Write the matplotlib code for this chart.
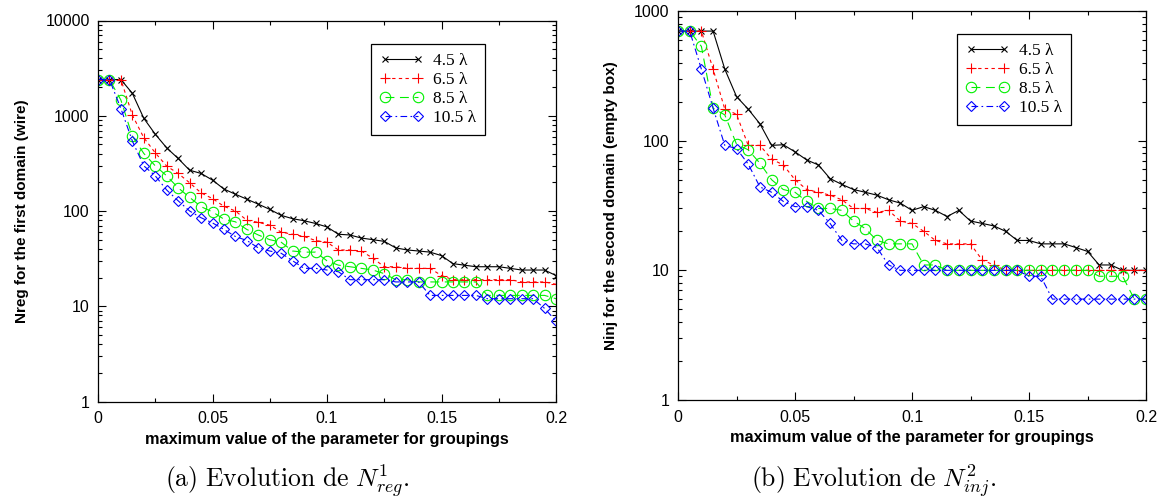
import numpy as np
import matplotlib
matplotlib.use("Agg")
import matplotlib.pyplot as plt
from matplotlib.ticker import LogLocator, FixedLocator, NullFormatter

plt.rcParams['mathtext.fontset'] = 'cm'
plt.rcParams['font.family'] = ['Liberation Sans', 'DejaVu Sans']

# parametre de regroupement (axe x commun)
x = [0.000, 0.005, 0.010, 0.015, 0.020, 0.025, 0.030, 0.035, 0.040, 0.045,
     0.050, 0.055, 0.060, 0.065, 0.070, 0.075, 0.080, 0.085, 0.090, 0.095,
     0.100, 0.105, 0.110, 0.115, 0.120, 0.125, 0.130, 0.135, 0.140, 0.145,
     0.150, 0.155, 0.160, 0.165, 0.170, 0.175, 0.180, 0.185, 0.190, 0.195,
     0.200]

labels = ["4.5 λ", "6.5 λ", "8.5 λ", "10.5 λ"]

# (a) Nreg, premier domaine (fil)
nreg_45 = [2400, 2400, 2400, 1720, 940, 640, 460, 356, 268, 248, 211, 170, 150, 133,
           118, 104, 90, 83, 79, 74, 68, 57, 56, 52, 50, 48, 41, 39, 38, 37, 34, 28,
           27, 26, 26, 26, 25, 24, 24, 24, 21]
nreg_65 = [2400, 2400, 2400, 1016, 588, 408, 296, 248, 198, 155, 135, 112, 100, 80,
           76, 71, 60, 57, 54, 49, 47, 39, 39, 38, 32, 26, 26, 25, 25, 25, 21, 19,
           19, 19, 19, 19, 19, 18, 18, 18, 17]
nreg_85 = [2400, 2400, 1460, 611, 402, 298, 234, 175, 139, 111, 98, 82, 77, 64, 56,
           50, 47, 38, 37, 37, 30, 27, 26, 25, 24, 22, 19, 19, 18, 18, 18, 18, 18,
           18, 13, 13, 13, 13, 13, 13, 12]
nreg_105 = [2400, 2400, 1190, 542, 298, 234, 166, 128, 100, 85, 75, 64, 54, 49, 41,
            38, 36, 30, 25, 25, 24, 23, 19, 19, 19, 19, 18, 18, 18, 13, 13, 13, 13,
            13, 12, 12, 12, 12, 12, 9.5, 7]

# (b) Ninj, second domaine (boite vide)
ninj_45 = [700, 700, 700, 700, 356, 219, 175, 135, 92, 93, 82, 71, 65, 51, 46, 42,
           40, 38, 35, 33, 29, 31, 29, 26, 29, 24, 23, 22, 20, 17, 17, 16, 16, 16,
           15, 14, 11, 11, 10, 10, 10]
ninj_65 = [700, 700, 700, 356, 175, 160, 92, 92, 72, 65, 50, 42, 40, 38, 35, 30, 30,
           28, 29, 24, 23, 20, 17, 16, 16, 16, 12, 11, 10, 10, 10, 10, 10, 10, 10,
           10, 10, 10, 10, 10, 10]
ninj_85 = [700, 700, 533, 178, 158, 94, 85, 67, 50, 42, 40, 34, 30, 30, 29, 24, 21,
           17, 16, 16, 16, 11, 11, 10, 10, 10, 10, 10, 10, 10, 10, 10, 10, 10, 10,
           10, 9, 9, 9, 6, 6]
ninj_105 = [700, 700, 356, 178, 92, 87, 66, 44, 40, 34, 31, 31, 29, 23, 17, 16, 16,
            15, 11, 10, 10, 10, 10, 10, 10, 10, 10, 10, 10, 10, 9, 9, 6, 6, 6, 6, 6,
            6, 6, 6, 6]

styles = [
    dict(color="black", marker="x", ms=5, linestyle="-"),
    dict(color="#ff0000", marker="+", ms=7.5, dashes=(3, 3)),
    dict(color="#00f000", marker="o", ms=7.5, mfc="none", dashes=(8, 5)),
    dict(color="#0000ff", marker="D", ms=5, mfc="none", dashes=(6, 3, 1.5, 3)),
]


def draw_panel(ax, series, ymax, ylabel, anchor):
    for s, lab, st in zip(series, labels, styles):
        ax.plot(x, s, lw=0.8, mew=0.8, label=lab, **st)
    ax.set_yscale("log")
    ax.set_xlim(0, 0.2)
    ax.set_ylim(1, ymax)
    ax.set_xticks([0, 0.05, 0.1, 0.15, 0.2])
    ax.set_xticklabels(["0", "0.05", "0.1", "0.15", "0.2"])
    ax.xaxis.set_minor_locator(FixedLocator([0.025, 0.075, 0.125, 0.175]))
    ax.yaxis.set_minor_locator(LogLocator(base=10, subs=np.arange(2, 10), numticks=50))
    ax.yaxis.set_minor_formatter(NullFormatter())
    ticks = [10 ** k for k in range(int(np.log10(ymax)) + 1)]
    ax.set_yticks(ticks)
    ax.set_yticklabels(["%d" % t for t in ticks])
    ax.tick_params(which="both", direction="in", top=True, right=True, labelsize=11.5,
                   width=0.8)
    ax.tick_params(axis="x", pad=7)
    ax.tick_params(axis="y", pad=6)
    ax.tick_params(which="major", length=6)
    ax.tick_params(which="minor", length=3)
    for sp in ax.spines.values():
        sp.set_linewidth(0.9)
    ax.set_xlabel("maximum value of the parameter for groupings", fontweight="bold",
                  fontsize=11.7, labelpad=4)
    ax.set_ylabel(ylabel, fontweight="bold", fontsize=11, labelpad=12)
    leg = ax.legend(loc="upper left", bbox_to_anchor=anchor, borderaxespad=0,
                    numpoints=2, handlelength=2.5, labelspacing=0.17, fancybox=False,
                    framealpha=1, edgecolor="black", borderpad=0.5, handletextpad=0.6,
                    prop=dict(family=["Liberation Serif", "DejaVu Serif"], size=12.5))
    leg.get_frame().set_linewidth(0.9)


fig = plt.figure(figsize=(11.62, 5.03), dpi=100)
ax1 = fig.add_axes([98 / 1162, 101.5 / 503, 458 / 1162, 381 / 503])
ax2 = fig.add_axes([678 / 1162, 103 / 503, 468 / 1162, 389 / 503])

draw_panel(ax1, [nreg_45, nreg_65, nreg_85, nreg_105], 10000,
           "Nreg for the first domain (wire)", (0.596, 0.938))
draw_panel(ax2, [ninj_45, ninj_65, ninj_85, ninj_105], 1000,
           "Ninj for the second domain (empty box)", (0.5955, 0.941))

fig.text(287 / 1162, 1 - 481 / 503, r"$\mathrm{(a)\ Evolution\ de\ }N^1_{reg}.$",
         ha="center", va="center", fontsize=18.5)
fig.text(874 / 1162, 1 - 481 / 503, r"$\mathrm{(b)\ Evolution\ de\ }N^2_{inj}.$",
         ha="center", va="center", fontsize=18.5)

plt.savefig("out.png", dpi=100)
